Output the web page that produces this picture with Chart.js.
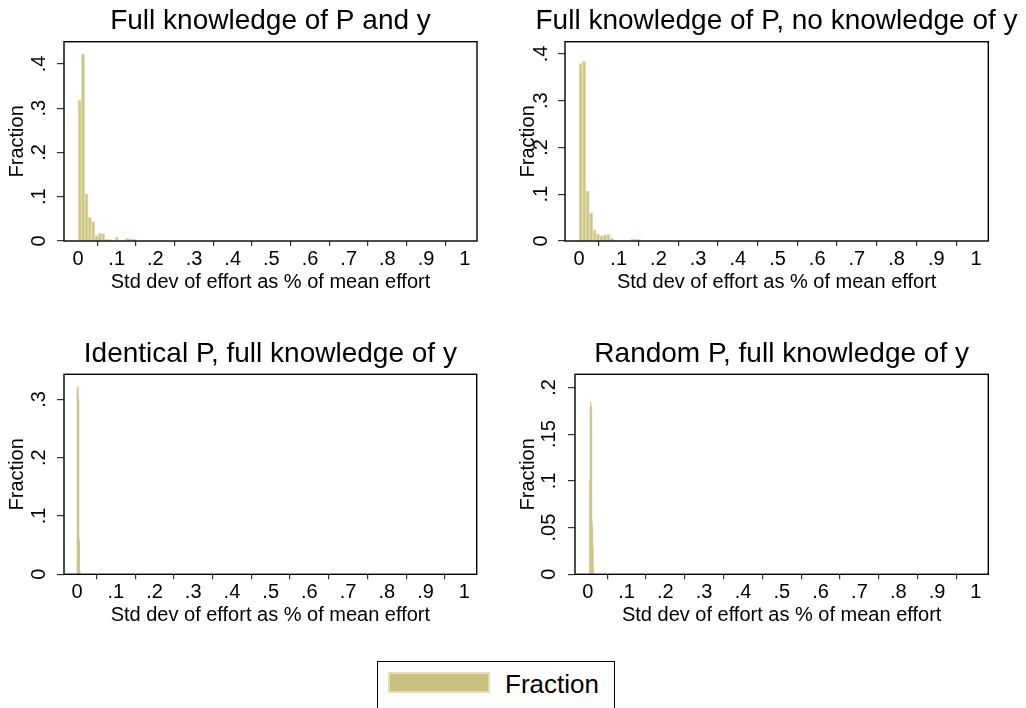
<!DOCTYPE html>
<html>
<head>
<meta charset="utf-8">
<script src="https://cdn.jsdelivr.net/npm/chart.js@4.4.0/dist/chart.umd.min.js"></script>
<style>
  body { margin: 0; background: #fff; overflow: hidden; }
  #page { position: relative; width: 1026px; height: 708px; overflow: hidden; background: #fff; }
  canvas { position: absolute; }
  #legend { position: absolute; left: 377px; top: 661px; width: 238px; height: 70px;
            border: 1.5px solid #000; box-sizing: border-box; }
  #swatch { position: absolute; left: 10px; top: 10px; width: 102px; height: 21px;
            background: rgb(200,192,128); border: 2px solid rgb(228,222,180); box-sizing: border-box; }
  #legtext { position: absolute; left: 127px; top: 7px; font: 26px "Liberation Sans", Arial, sans-serif; color: #000; }
</style>
</head>
<body>
<div id="page">
  <canvas id="c1" width="500" height="300" style="left:0px;top:0px"></canvas>
  <canvas id="c2" width="523" height="300" style="left:515px;top:0px"></canvas>
  <canvas id="c3" width="500" height="300" style="left:0px;top:330px"></canvas>
  <canvas id="c4" width="500" height="300" style="left:510px;top:330px"></canvas>
  <div id="legend"><div id="swatch"></div><div id="legtext">Fraction</div></div>
</div>
<script>
// data
const titles = [
    'Full knowledge of P and y',
    'Full knowledge of P, no knowledge of y',
    'Identical P, full knowledge of y',
    'Random P, full knowledge of y'
];
const xLabel = 'Std dev of effort as % of mean effort';
const yLabel = 'Fraction';
const xTicks = [0, 0.1, 0.2, 0.3, 0.4, 0.5, 0.6, 0.7, 0.8, 0.9, 1];

// Full knowledge of P and y
const binStart1 = 0;
const binWidth1 = 0.0087;
const fraction1 = [0.318, 0.423, 0.106, 0.054, 0.044, 0.012, 0.018, 0.017, 0.004, 0.003,
                   0, 0.009, 0, 0, 0.006, 0.005, 0.004];
const yTicks1 = [0, 0.1, 0.2, 0.3, 0.4];

// Full knowledge of P, no knowledge of y
const binStart2 = 0;
const binWidth2 = 0.0087;
const fraction2 = [0.379, 0.384, 0.107, 0.060, 0.024, 0.014, 0.011, 0.013, 0.014, 0.006,
                   0, 0, 0, 0, 0, 0.004, 0.004, 0.003];
const yTicks2 = [0, 0.1, 0.2, 0.3, 0.4];

// Identical P, full knowledge of y
const binStart3 = 0;
const binWidth3 = 0.0017;
const fraction3 = [0.318, 0.322, 0.300, 0.059, 0.004];
const yTicks3 = [0, 0.1, 0.2, 0.3];

// Random P, full knowledge of y
const binStart4 = 0.0048;
const binWidth4 = 0.0012;
const fraction4 = [0.100, 0.178, 0.184, 0.180, 0.175, 0.056, 0.050, 0.030, 0.005];
const yTicks4 = [0, 0.05, 0.1, 0.15, 0.2];

Chart.defaults.font.family = '"Liberation Sans", Arial, sans-serif';
Chart.defaults.color = '#000';

function fmt(v) {
    if (v === 0) return '0';
    if (v === 1) return '1';
    return String(+v.toFixed(2)).replace(/^0\./, '.');
}

const frame = {
    id: 'frame',
    afterDatasetsDraw(chart) {
        const a = chart.chartArea;
        const ctx = chart.ctx;
        ctx.save();
        ctx.strokeStyle = '#000';
        ctx.lineWidth = 1.4;
        ctx.strokeRect(a.left, a.top, a.right - a.left, a.bottom - a.top);
        ctx.restore();
    }
};

function renderPanel(id, p) {
    const points = p.values.map((v, i) => ({x: p.start + (i + 0.5) * p.width, y: v}));
    const scales = {
        x: {
            type: 'linear',
            min: p.xMin,
            max: p.xMax,
            offset: false,
            afterBuildTicks: s => { s.ticks = xTicks.map(v => ({value: v})); },
            afterFit: s => { s.height = p.xHeight; },
            border: { display: false },
            grid: { drawOnChartArea: false, drawTicks: true, tickLength: 5, tickColor: '#333', lineWidth: 1.2 },
            ticks: { font: { size: 20 }, padding: 1.5, maxRotation: 0, autoSkip: false,
                     callback: v => fmt(v) },
            title: { display: true, text: xLabel, font: { size: 20 },
                     padding: { top: 0, bottom: p.xTitlePad } }
        },
        y: {
            min: 0,
            max: p.yMax,
            afterBuildTicks: s => { s.ticks = p.yTicks.map(v => ({value: v})); },
            afterFit: s => { s.width = p.yWidth; },
            border: { display: false },
            grid: { drawOnChartArea: false, drawTicks: true, tickLength: 7, tickColor: '#333', lineWidth: 1.2 },
            ticks: { font: { size: 20 }, minRotation: 90, maxRotation: 90, crossAlign: 'center',
                     padding: p.yTickPad, autoSkip: false, callback: v => fmt(v) },
            title: { display: true, text: yLabel, font: { size: 20 },
                     padding: { top: p.yTitlePad, bottom: 0 } }
        }
    };
    if (p.rightGap) {
        // empty right-hand space so a wide title can run past the plot region
        scales.gap = {
            position: 'right', display: true, min: 0, max: 1,
            afterFit: s => { s.width = p.rightGap; },
            border: { display: false }, grid: { display: false }, ticks: { display: false }
        };
    }
    new Chart(document.getElementById(id), {
        type: 'bar',
        data: {
            datasets: [{
                data: points,
                backgroundColor: 'rgb(206,198,136)',
                borderColor: 'rgb(228,222,180)',
                borderWidth: p.thin ? 0 : 1,
                barPercentage: 1,
                categoryPercentage: 1,
                grouped: false
            }]
        },
        plugins: [frame],
        options: {
            responsive: false,
            animation: false,
            layout: { padding: { left: 0, right: p.padRight, top: 0, bottom: 0 } },
            plugins: {
                legend: { display: false },
                tooltip: { enabled: false },
                title: {
                    display: true,
                    text: p.title,
                    fullSize: !!p.rightGap,
                    color: '#000',
                    font: { size: 28, weight: 'normal', lineHeight: 1.2 },
                    padding: { top: p.titleTop, bottom: p.titleBottom }
                }
            },
            scales: scales
        }
    });
}

renderPanel('c1', { title: titles[0], values: fraction1, start: binStart1, width: binWidth1, yTicks: yTicks1,
    xMin: -0.0362, xMax: 1.0318, yMax: 0.4504, yWidth: 64, padRight: 23, xHeight: 59,
    titleTop: 4, titleBottom: 4.1, xTitlePad: 6, yTitlePad: 5, yTickPad: 9.5 });
renderPanel('c2', { title: titles[1], values: fraction2, start: binStart2, width: binWidth2, yTicks: yTicks2,
    xMin: -0.0353, xMax: 1.031, yMax: 0.426, yWidth: 50, padRight: 0, rightGap: 49.7, xHeight: 59,
    titleTop: 4, titleBottom: 4.1, xTitlePad: 6, yTitlePad: 1, yTickPad: 8 });
renderPanel('c3', { title: titles[2], values: fraction3, start: binStart3, width: binWidth3, yTicks: yTicks3, thin: true,
    xMin: -0.0336, xMax: 1.032, yMax: 0.343, yWidth: 64, padRight: 23.3, xHeight: 55.7,
    titleTop: 7.4, titleBottom: 3.3, xTitlePad: 3, yTitlePad: 5, yTickPad: 9.5 });
renderPanel('c4', { title: titles[3], values: fraction4, start: binStart4, width: binWidth4, yTicks: yTicks4, thin: true,
    xMin: -0.0327, xMax: 1.032, yMax: 0.214, yWidth: 65, padRight: 21.7, xHeight: 55.7,
    titleTop: 7.4, titleBottom: 3.3, xTitlePad: 3, yTitlePad: 6, yTickPad: 5 });
</script>
</body>
</html>
